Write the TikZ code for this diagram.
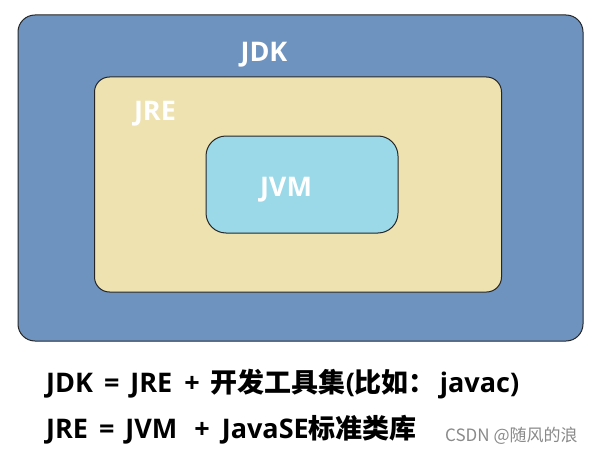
\documentclass[tikz,border=0pt]{standalone}
\usepackage{fontspec}
\setmainfont{Open Sans}
\newfontfamily\cjk{Noto Sans CJK SC}
\definecolor{jdkc}{HTML}{6F93BF}
\definecolor{jrec}{HTML}{EEE2B0}
\definecolor{jvmc}{HTML}{9BD9E9}
\definecolor{wmc}{HTML}{8A8A8A}
\newcommand{\gapsp}[1][11pt]{\hspace{#1}}
\begin{document}
\begin{tikzpicture}[x=1pt,y=-1pt,
  box/.style={draw=black!85,line width=1pt,rounded corners=17pt,inner sep=0pt},
  lbl/.style={text=white,font=\fontsize{27}{30}\selectfont\bfseries,inner sep=0pt,anchor=base},
  eq/.style={font=\fontsize{27}{30}\selectfont\bfseries,inner sep=0pt,anchor=base west},
  wm/.style={text=wmc,font=\cjk\fontsize{17}{20}\selectfont,inner sep=0pt,anchor=base west}]
\useasboundingbox (0,0) rectangle (597,452);
\fill[white] (0,0) rectangle (597,452);
\node[box,fill=jdkc,minimum width=565pt,minimum height=326pt] (jdk) at (300.5,178) {};
\node[box,fill=jrec,minimum width=407pt,minimum height=215pt,rounded corners=15pt] (jre) at (298,184.5) {};
\node[box,fill=jvmc,minimum width=192pt,minimum height=97pt,rounded corners=20pt] (jvm) at (302,184.5) {};
\node[lbl] (jdkl) at (264,62) {JDK};
\node[lbl] (jrel) at (155,121) {JRE};
\node[lbl] (jvml) at (286,196) {JVM};
\node[eq] (l1) at (46,392) {JDK\gapsp[11pt]=\gapsp[11pt]JRE\gapsp[12pt]+\gapsp[11pt]{\cjk\bfseries 开发工具集}({\cjk\bfseries 比如：}\gapsp[4pt]javac)};
\node[eq] (l2) at (46,438) {JRE\gapsp[11pt]=\gapsp[11pt]JVM\gapsp[17pt]+\gapsp[12pt]JavaSE{\cjk\bfseries 标准类库}};
\node[wm] (wmk) at (445,441) {CSDN @随风的浪};
\end{tikzpicture}
\end{document}
